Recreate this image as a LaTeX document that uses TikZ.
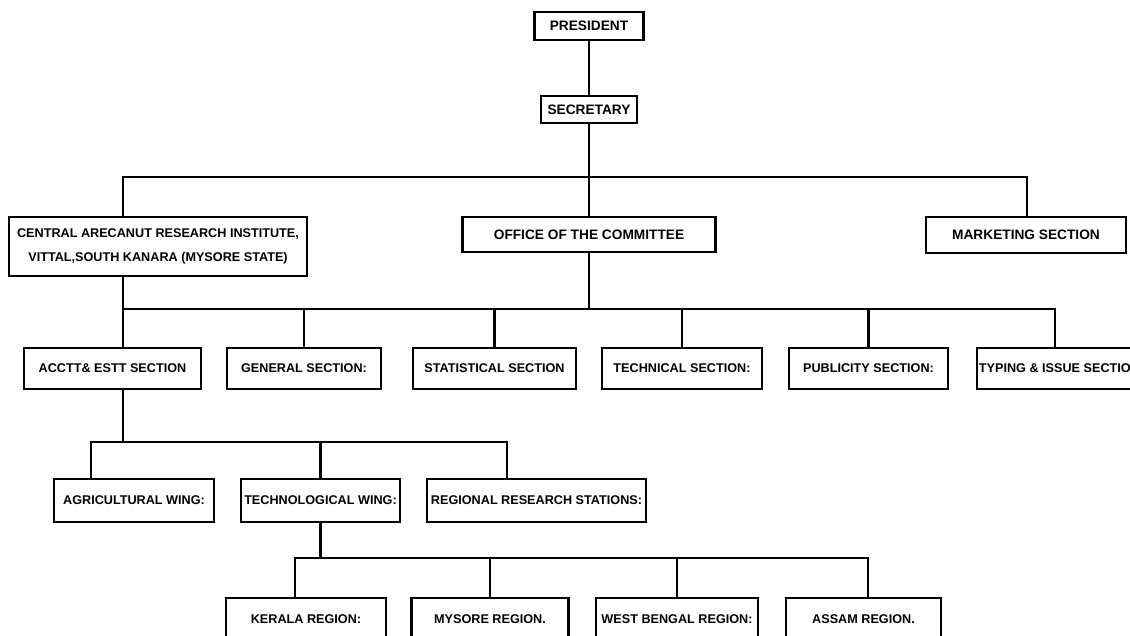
\documentclass[tikz,border=0pt]{standalone}
\usepackage{fontspec}
\setmainfont{Liberation Sans}
\usetikzlibrary{positioning}

\begin{document}
\begin{tikzpicture}[x=0.02cm,y=-0.02cm,
unit/.style={draw,line width=1.3pt,inner sep=1pt,align=center,
font=\bfseries\fontsize{7.2}{14}\selectfont},
big/.style={font=\bfseries\fontsize{7.8}{14}\selectfont},
link/.style={line width=1.3pt}]
\useasboundingbox (0,0) rectangle (1130,636);

\node[unit,big,minimum width=2.18cm,minimum height=0.56cm] (pres) at (589,26) {PRESIDENT};
\node[unit,big,minimum width=1.92cm,minimum height=0.54cm] (sec) at (589,109.5) {SECRETARY};

\node[unit,minimum width=5.96cm,minimum height=1.18cm] (cari) at (158,246.5)
{CENTRAL ARECANUT RESEARCH INSTITUTE,\\VITTAL,SOUTH KANARA (MYSORE STATE)};
\node[unit,big,minimum width=5.06cm,minimum height=0.70cm] (office) at (589,234.5) {OFFICE OF THE COMMITTEE};
\node[unit,big,minimum width=4.0cm,minimum height=0.72cm] (mkt) at (1026,235) {MARKETING SECTION};

\node[unit,minimum width=3.54cm,minimum height=0.82cm] (acct) at (112.5,368.5) {ACCTT\& ESTT SECTION};
\node[unit,minimum width=3.08cm,minimum height=0.82cm] (gen) at (304,368.5) {GENERAL SECTION:};
\node[unit,minimum width=3.26cm,minimum height=0.82cm] (stat) at (494.5,368.5) {STATISTICAL SECTION};
\node[unit,minimum width=3.20cm,minimum height=0.82cm] (tech) at (682,368.5) {TECHNICAL SECTION:};
\node[unit,minimum width=3.18cm,minimum height=0.82cm] (pub) at (868.5,368.5) {PUBLICITY SECTION:};
\node[unit,minimum width=3.16cm,minimum height=0.82cm,anchor=west] (typ) at (976,368.5) {TYPING \& ISSUE SECTION};

\node[unit,minimum width=3.20cm,minimum height=0.86cm] (agri) at (134,500.5) {AGRICULTURAL WING:};
\node[unit,minimum width=3.18cm,minimum height=0.86cm] (twing) at (320.5,500.5) {TECHNOLOGICAL WING:};
\node[unit,minimum width=4.38cm,minimum height=0.86cm] (reg) at (536.5,500.5) {REGIONAL RESEARCH STATIONS:};

\node[unit,minimum width=3.20cm,minimum height=0.84cm] (ker) at (306,619) {KERALA REGION:};
\node[unit,minimum width=3.14cm,minimum height=0.84cm] (mys) at (490,619) {MYSORE REGION.};
\node[unit,minimum width=3.24cm,minimum height=0.84cm] (wb) at (677,619) {WEST BENGAL REGION:};
\node[unit,minimum width=3.10cm,minimum height=0.84cm] (asm) at (863.5,619) {ASSAM REGION.};

\coordinate (b1l) at (123,177);
\coordinate (b1r) at (1027,177);
\coordinate (b2l) at (123,309);
\coordinate (b2r) at (1055,309);
\coordinate (b3l) at (91,442);
\coordinate (b3r) at (507,442);
\coordinate (b4l) at (295,558);
\coordinate (b4r) at (868,558);

\draw[link] (pres) -- (sec);
\draw[link] (sec) -- (office);
\draw[link] (cari.north -| b1l) -- (b1l) -- (b1r) -- (mkt.north -| b1r);

\draw[link] (cari.south -| b2l) -- (acct.north -| b2l);
\draw[link] (b2l) -- (b2r) -- (typ.north -| b2r);
\draw[link] (office) -- (office |- b2l);
\foreach \n in {gen,stat,tech,pub}
\draw[link] (\n.north) -- (\n.north |- b2l);

\draw[link] (acct.south -| b2l) -- (b2l |- b3l);
\draw[link] (agri.north -| b3l) |- (b3r) -- (reg.north -| b3r);
\draw[link] (twing) -- (twing |- b3l);

\draw[link] (twing.south) -- (twing |- b4l);
\draw[link] (ker.north -| b4l) |- (b4r) -- (asm.north -| b4r);
\draw[link] (mys.north) -- (mys.north |- b4l);
\draw[link] (wb.north) -- (wb.north |- b4l);
\end{tikzpicture}
\end{document}
